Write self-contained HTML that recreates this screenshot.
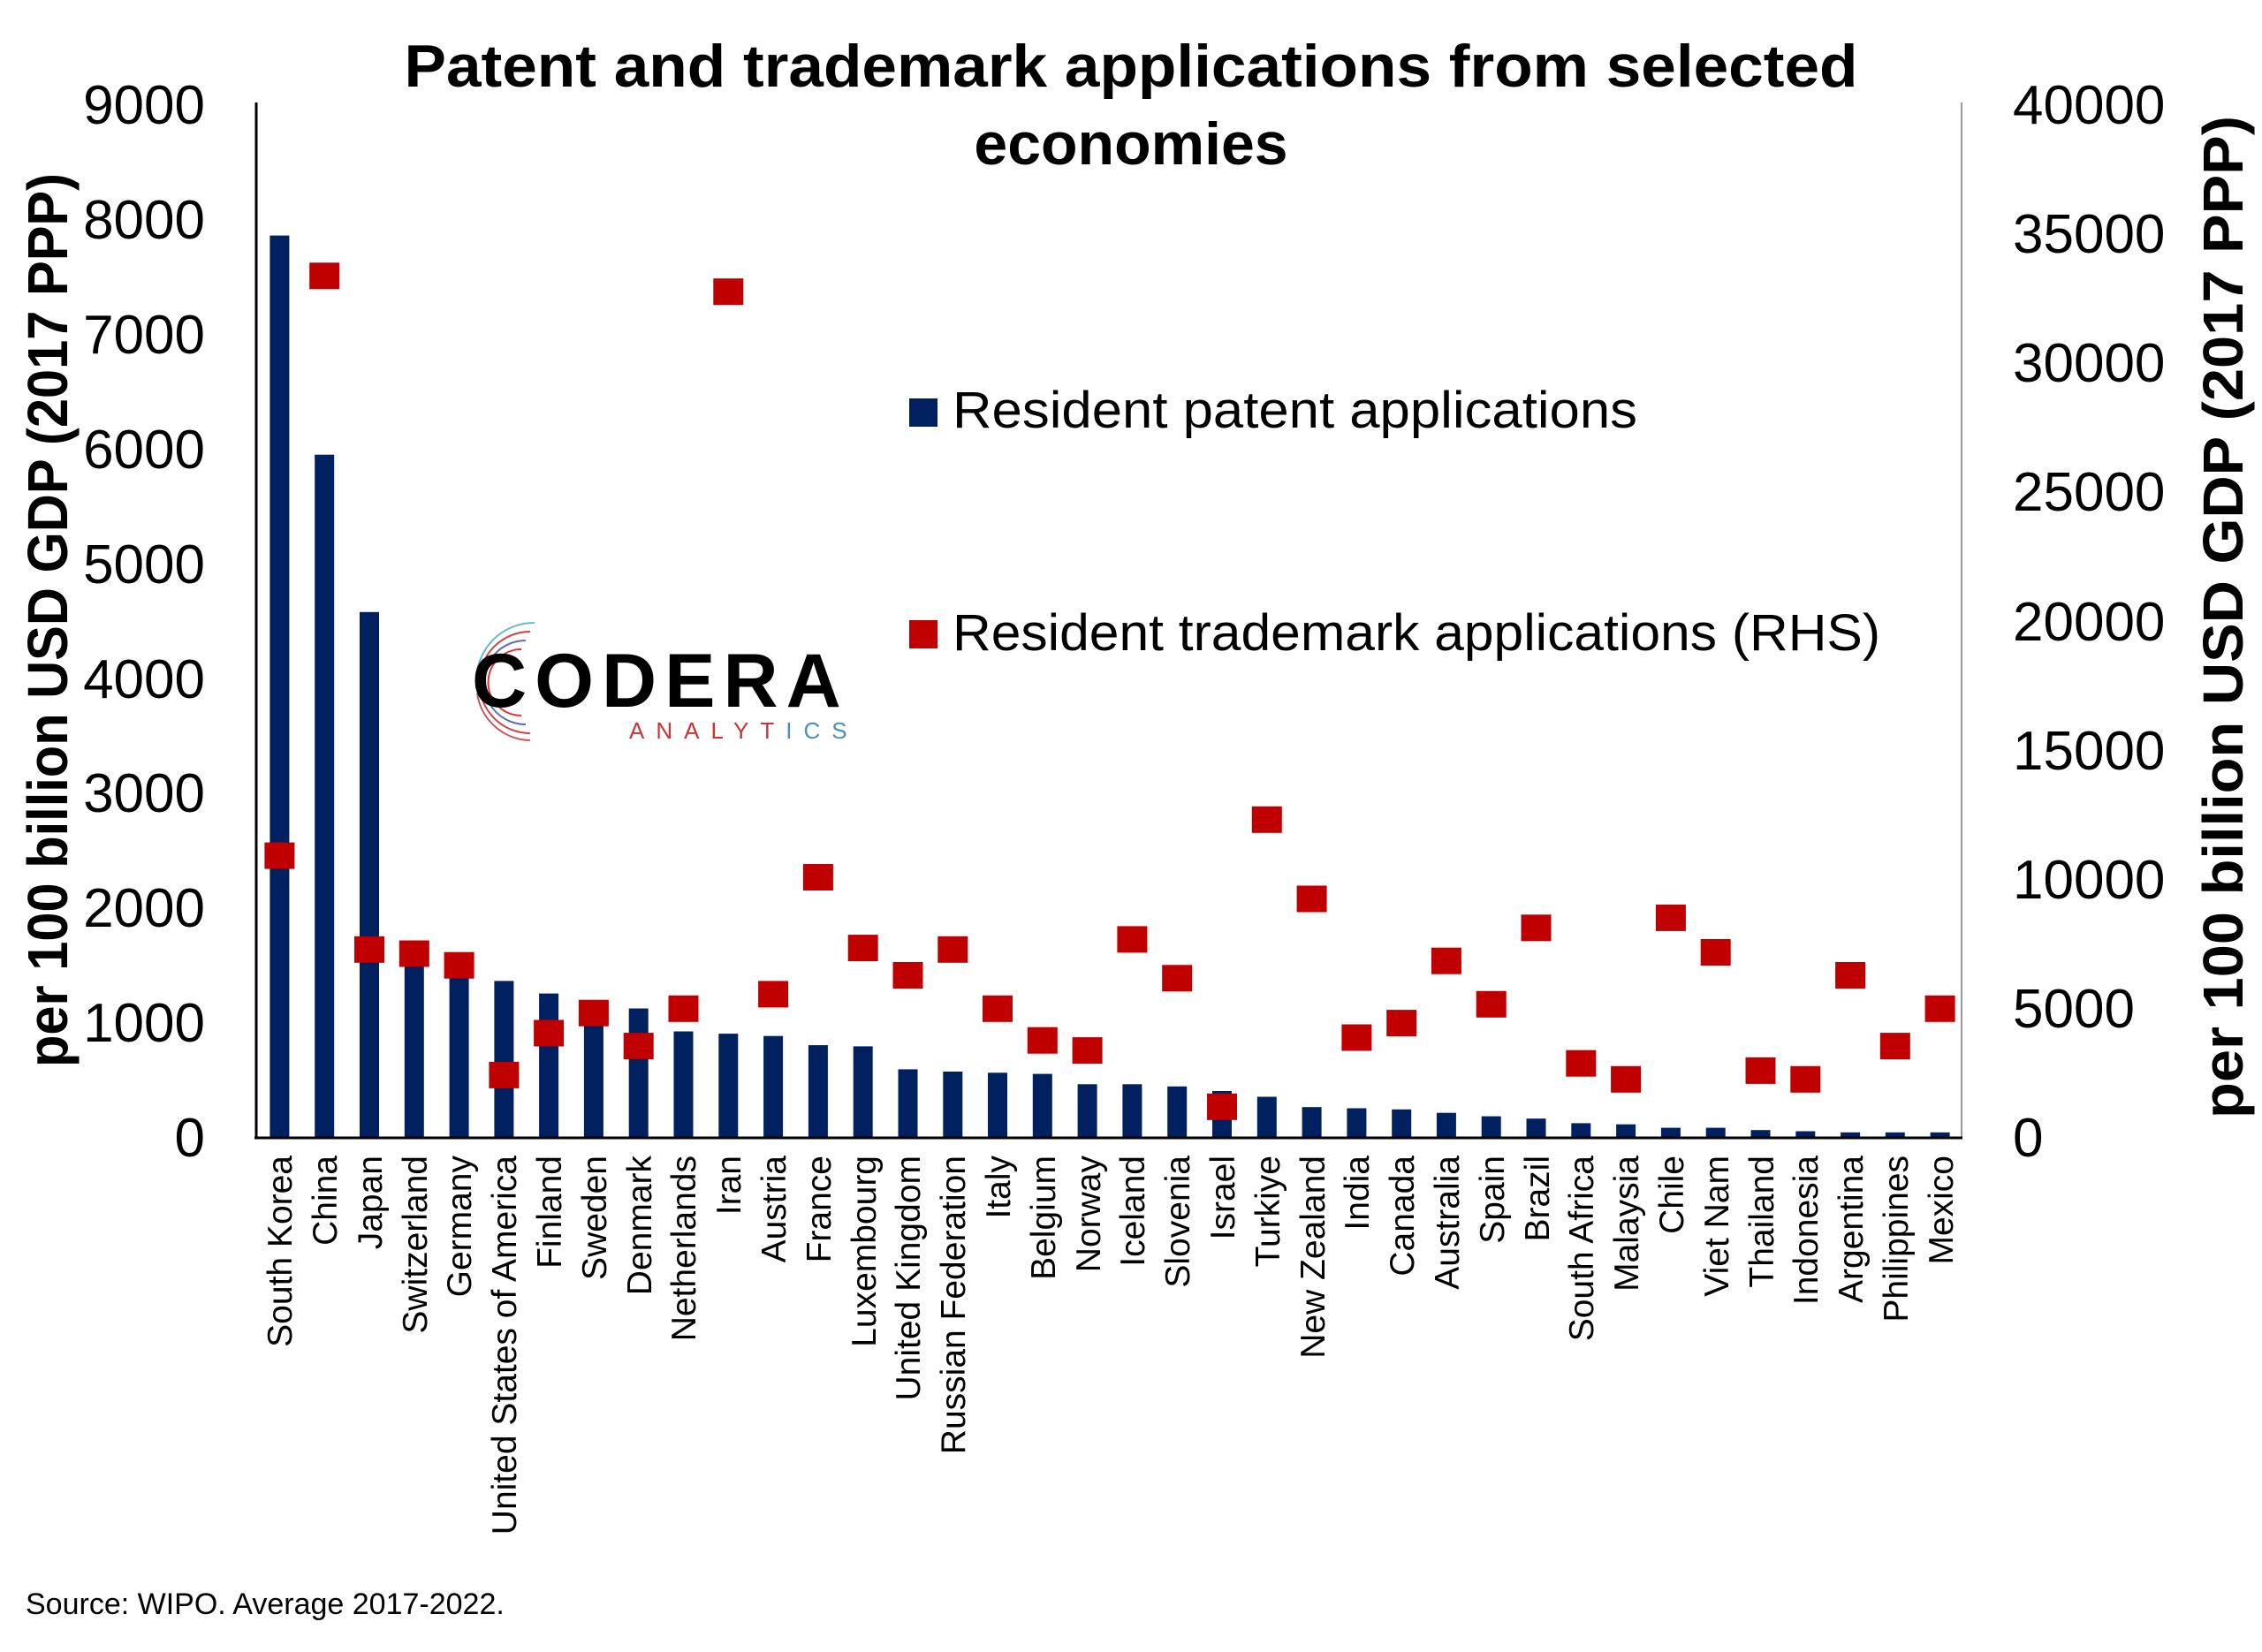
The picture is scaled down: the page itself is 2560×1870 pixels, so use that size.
<!DOCTYPE html>
<html><head><meta charset="utf-8"><style>
html,body{margin:0;padding:0;background:#fff;}
svg{display:block;font-family:"Liberation Sans",sans-serif;}
</style></head><body>
<svg width="2560" height="1870" viewBox="0 0 2560 1870" xmlns="http://www.w3.org/2000/svg">
<rect width="2560" height="1870" fill="#fff"/>
<text x="1280" y="98" font-size="68" font-weight="bold" text-anchor="middle" textLength="1645" lengthAdjust="spacingAndGlyphs">Patent and trademark applications from selected</text>
<text x="1280" y="186" font-size="68" font-weight="bold" text-anchor="middle">economies</text>

<g font-size="62" text-anchor="end" fill="#000">
<text x="232" y="1309">0</text>
<text x="232" y="1179">1000</text>
<text x="232" y="1049">2000</text>
<text x="232" y="919">3000</text>
<text x="232" y="790">4000</text>
<text x="232" y="660">5000</text>
<text x="232" y="530">6000</text>
<text x="232" y="400">7000</text>
<text x="232" y="270">8000</text>
<text x="232" y="140">9000</text>
</g>
<g font-size="62" text-anchor="start" fill="#000">
<text x="2278" y="1309">0</text>
<text x="2278" y="1163">5000</text>
<text x="2278" y="1017">10000</text>
<text x="2278" y="871">15000</text>
<text x="2278" y="725">20000</text>
<text x="2278" y="578">25000</text>
<text x="2278" y="432">30000</text>
<text x="2278" y="286">35000</text>
<text x="2278" y="140">40000</text>
</g>
<text transform="translate(76,1208) rotate(-90)" font-family="'Liberation Sans Narrow','Liberation Sans',sans-serif" font-size="64" font-weight="bold" textLength="1012" lengthAdjust="spacingAndGlyphs">per 100 billion USD GDP (2017 PPP)</text>
<text transform="translate(2538,1266) rotate(-90)" font-family="'Liberation Sans Narrow','Liberation Sans',sans-serif" font-size="64" font-weight="bold" textLength="1135" lengthAdjust="spacingAndGlyphs">per 100 billion USD GDP (2017 PPP)</text>

<g fill="#002060">
<rect x="305.4" y="266.6" width="22" height="1020.4"/>
<rect x="356.2" y="514.7" width="22" height="772.3"/>
<rect x="407" y="692.8" width="22" height="594.2"/>
<rect x="457.8" y="1085.7" width="22" height="201.3"/>
<rect x="508.6" y="1098.7" width="22" height="188.3"/>
<rect x="559.4" y="1110.4" width="22" height="176.6"/>
<rect x="610.1" y="1124.6" width="22" height="162.4"/>
<rect x="660.9" y="1144.1" width="22" height="142.9"/>
<rect x="711.7" y="1141.5" width="22" height="145.5"/>
<rect x="762.5" y="1167.5" width="22" height="119.5"/>
<rect x="813.3" y="1170.1" width="22" height="116.9"/>
<rect x="864.1" y="1172.7" width="22" height="114.3"/>
<rect x="914.9" y="1183.1" width="22" height="103.9"/>
<rect x="965.7" y="1184.4" width="22" height="102.6"/>
<rect x="1016.5" y="1210.4" width="22" height="76.6"/>
<rect x="1067.3" y="1213" width="22" height="74"/>
<rect x="1118" y="1214.3" width="22" height="72.7"/>
<rect x="1168.8" y="1215.6" width="22" height="71.4"/>
<rect x="1219.6" y="1227.3" width="22" height="59.7"/>
<rect x="1270.4" y="1227.3" width="22" height="59.7"/>
<rect x="1321.2" y="1229.8" width="22" height="57.2"/>
<rect x="1372" y="1235" width="22" height="52"/>
<rect x="1422.8" y="1241.5" width="22" height="45.5"/>
<rect x="1473.6" y="1253.2" width="22" height="33.8"/>
<rect x="1524.4" y="1254.5" width="22" height="32.5"/>
<rect x="1575.2" y="1255.8" width="22" height="31.2"/>
<rect x="1625.9" y="1259.7" width="22" height="27.3"/>
<rect x="1676.7" y="1263.6" width="22" height="23.4"/>
<rect x="1727.5" y="1266.2" width="22" height="20.8"/>
<rect x="1778.3" y="1271.4" width="22" height="15.6"/>
<rect x="1829.1" y="1272.7" width="22" height="14.3"/>
<rect x="1879.9" y="1276.6" width="22" height="10.4"/>
<rect x="1930.7" y="1276.6" width="22" height="10.4"/>
<rect x="1981.5" y="1279.2" width="22" height="7.8"/>
<rect x="2032.3" y="1280.5" width="22" height="6.5"/>
<rect x="2083.1" y="1281.8" width="22" height="5.2"/>
<rect x="2133.8" y="1281.8" width="22" height="5.2"/>
<rect x="2184.6" y="1281.8" width="22" height="5.2"/>
</g>

<line x1="290" y1="116" x2="290" y2="1289" stroke="#000" stroke-width="3"/>
<line x1="2220" y1="116" x2="2220" y2="1289" stroke="#999" stroke-width="2"/>
<line x1="288" y1="1288" x2="2221" y2="1288" stroke="#000" stroke-width="3"/>

<g fill="#C00000">
<rect x="299.4" y="953.6" width="34" height="30"/>
<rect x="350.2" y="297.3" width="34" height="30"/>
<rect x="401" y="1059.8" width="34" height="30"/>
<rect x="451.8" y="1064.5" width="34" height="30"/>
<rect x="502.6" y="1077.7" width="34" height="30"/>
<rect x="553.4" y="1201.9" width="34" height="30"/>
<rect x="604.1" y="1154.5" width="34" height="30"/>
<rect x="654.9" y="1131.7" width="34" height="30"/>
<rect x="705.7" y="1169.1" width="34" height="30"/>
<rect x="756.5" y="1126.8" width="34" height="30"/>
<rect x="807.3" y="315.2" width="34" height="30"/>
<rect x="858.1" y="1110.4" width="34" height="30"/>
<rect x="908.9" y="978" width="34" height="30"/>
<rect x="959.7" y="1058.1" width="34" height="30"/>
<rect x="1010.5" y="1089" width="34" height="30"/>
<rect x="1061.3" y="1059.8" width="34" height="30"/>
<rect x="1112" y="1126.8" width="34" height="30"/>
<rect x="1162.8" y="1162.7" width="34" height="30"/>
<rect x="1213.6" y="1174.1" width="34" height="30"/>
<rect x="1264.4" y="1048.4" width="34" height="30"/>
<rect x="1315.2" y="1092.3" width="34" height="30"/>
<rect x="1366" y="1237.8" width="34" height="30"/>
<rect x="1416.8" y="912.8" width="34" height="30"/>
<rect x="1467.6" y="1002.5" width="34" height="30"/>
<rect x="1518.4" y="1159.5" width="34" height="30"/>
<rect x="1569.2" y="1143.1" width="34" height="30"/>
<rect x="1619.9" y="1072.7" width="34" height="30"/>
<rect x="1670.7" y="1121.8" width="34" height="30"/>
<rect x="1721.5" y="1035.3" width="34" height="30"/>
<rect x="1772.3" y="1188.7" width="34" height="30"/>
<rect x="1823.1" y="1206.8" width="34" height="30"/>
<rect x="1873.9" y="1023.9" width="34" height="30"/>
<rect x="1924.7" y="1063" width="34" height="30"/>
<rect x="1975.5" y="1196.9" width="34" height="30"/>
<rect x="2026.3" y="1206.8" width="34" height="30"/>
<rect x="2077.1" y="1089" width="34" height="30"/>
<rect x="2127.8" y="1169.1" width="34" height="30"/>
<rect x="2178.6" y="1126.8" width="34" height="30"/>
</g>

<g font-size="39" text-anchor="end" fill="#000" font-family="'Liberation Sans Narrow','Liberation Sans',sans-serif">
<text transform="translate(330,1308) rotate(-90)">South Korea</text>
<text transform="translate(381,1308) rotate(-90)">China</text>
<text transform="translate(432,1308) rotate(-90)">Japan</text>
<text transform="translate(483,1308) rotate(-90)">Switzerland</text>
<text transform="translate(533,1308) rotate(-90)">Germany</text>
<text transform="translate(584,1308) rotate(-90)">United States of America</text>
<text transform="translate(635,1308) rotate(-90)">Finland</text>
<text transform="translate(686,1308) rotate(-90)">Sweden</text>
<text transform="translate(737,1308) rotate(-90)">Denmark</text>
<text transform="translate(787,1308) rotate(-90)">Netherlands</text>
<text transform="translate(838,1308) rotate(-90)">Iran</text>
<text transform="translate(889,1308) rotate(-90)">Austria</text>
<text transform="translate(940,1308) rotate(-90)">France</text>
<text transform="translate(991,1308) rotate(-90)">Luxembourg</text>
<text transform="translate(1041,1308) rotate(-90)">United Kingdom</text>
<text transform="translate(1092,1308) rotate(-90)">Russian Federation</text>
<text transform="translate(1143,1308) rotate(-90)">Italy</text>
<text transform="translate(1194,1308) rotate(-90)">Belgium</text>
<text transform="translate(1245,1308) rotate(-90)">Norway</text>
<text transform="translate(1295,1308) rotate(-90)">Iceland</text>
<text transform="translate(1346,1308) rotate(-90)">Slovenia</text>
<text transform="translate(1397,1308) rotate(-90)">Israel</text>
<text transform="translate(1448,1308) rotate(-90)">Turkiye</text>
<text transform="translate(1499,1308) rotate(-90)">New Zealand</text>
<text transform="translate(1549,1308) rotate(-90)">India</text>
<text transform="translate(1600,1308) rotate(-90)">Canada</text>
<text transform="translate(1651,1308) rotate(-90)">Australia</text>
<text transform="translate(1702,1308) rotate(-90)">Spain</text>
<text transform="translate(1753,1308) rotate(-90)">Brazil</text>
<text transform="translate(1803,1308) rotate(-90)">South Africa</text>
<text transform="translate(1854,1308) rotate(-90)">Malaysia</text>
<text transform="translate(1905,1308) rotate(-90)">Chile</text>
<text transform="translate(1956,1308) rotate(-90)">Viet Nam</text>
<text transform="translate(2007,1308) rotate(-90)">Thailand</text>
<text transform="translate(2057,1308) rotate(-90)">Indonesia</text>
<text transform="translate(2108,1308) rotate(-90)">Argentina</text>
<text transform="translate(2159,1308) rotate(-90)">Philippines</text>
<text transform="translate(2210,1308) rotate(-90)">Mexico</text>
</g>

<rect x="1029" y="451" width="32" height="32" fill="#002060"/>
<text x="1078" y="484" font-size="58" textLength="775" lengthAdjust="spacingAndGlyphs">Resident patent applications</text>
<rect x="1029" y="702" width="32" height="32" fill="#C00000"/>
<text x="1078" y="736" font-size="58" textLength="1050" lengthAdjust="spacingAndGlyphs">Resident trademark applications (RHS)</text>

<g fill="none" stroke-width="2">
<path d="M600,715 A55,55 0 1 0 600,830" stroke="#c44"/>
<path d="M595,725 A45,45 0 1 0 595,820" stroke="#5a6fb0"/>
<path d="M590,735 A35,35 0 1 0 590,810" stroke="#d33"/>
<path d="M605,705 A65,65 0 0 0 540,760" stroke="#6bc"/>
<path d="M540,785 A62,62 0 0 0 600,838" stroke="#c55"/>
</g>
<text x="534" y="800" font-size="86" font-weight="bold" letter-spacing="9">CODERA</text>
<text x="712" y="836" font-size="26" letter-spacing="13" fill="#c33">ANALYT<tspan fill="#4a8fc0">ICS</tspan></text>

<text x="29" y="1827" font-size="34">Source: WIPO. Average 2017-2022.</text>
</svg>
</body></html>
